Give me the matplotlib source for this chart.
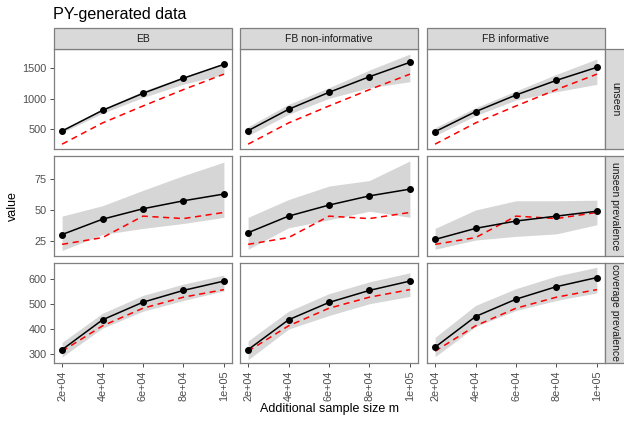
import numpy as np
import matplotlib.pyplot as plt
from matplotlib.patches import Rectangle

plt.rcParams['font.family'] = ['Liberation Sans', 'DejaVu Sans']

# data
m = [20000, 40000, 60000, 80000, 100000]
methods = ['EB', 'FB non-informative', 'FB informative']
quantities = ['unseen', 'unseen prevalence', 'coverage prevalence']

truth = {
    'unseen': [250, 600, 880, 1150, 1405],
    'unseen prevalence': [22, 27.5, 45, 43, 48],
    'coverage prevalence': [312, 413, 483, 527, 557],
}

est = {
    ('unseen', 'EB'): [467, 808, 1089, 1338, 1567],
    ('unseen', 'FB non-informative'): [472, 825, 1105, 1363, 1600],
    ('unseen', 'FB informative'): [456, 786, 1061, 1303, 1518],
    ('unseen prevalence', 'EB'): [30, 42.5, 51, 57.5, 63],
    ('unseen prevalence', 'FB non-informative'): [31.5, 45, 54, 61.5, 67],
    ('unseen prevalence', 'FB informative'): [26, 35, 41, 45, 49],
    ('coverage prevalence', 'EB'): [318, 437, 507, 554, 591],
    ('coverage prevalence', 'FB non-informative'): [318, 437, 506, 554, 591],
    ('coverage prevalence', 'FB informative'): [328, 450, 519, 569, 605],
}

lower = {
    ('unseen', 'EB'): [440, 760, 1020, 1240, 1400],
    ('unseen', 'FB non-informative'): [390, 742, 1006, 1182, 1280],
    ('unseen', 'FB informative'): [390, 720, 978, 1115, 1237],
    ('unseen prevalence', 'EB'): [17, 30, 35, 39, 44],
    ('unseen prevalence', 'FB non-informative'): [18, 35.5, 42, 49, 44],
    ('unseen prevalence', 'FB informative'): [18, 25.5, 28.5, 30.5, 38],
    ('coverage prevalence', 'EB'): [289, 404, 471, 514, 552],
    ('coverage prevalence', 'FB non-informative'): [278, 400, 454, 501, 530],
    ('coverage prevalence', 'FB informative'): [290, 410, 474, 514, 544],
}

upper = {
    ('unseen', 'EB'): [495, 835, 1125, 1365, 1585],
    ('unseen', 'FB non-informative'): [538, 907, 1182, 1473, 1737],
    ('unseen', 'FB informative'): [521, 851, 1127, 1402, 1655],
    ('unseen prevalence', 'EB'): [45, 53.5, 66, 78, 89],
    ('unseen prevalence', 'FB non-informative'): [44, 58.5, 69.5, 74, 90],
    ('unseen prevalence', 'FB informative'): [35, 50, 57.5, 57.5, 58],
    ('coverage prevalence', 'EB'): [347, 463, 534, 579, 615],
    ('coverage prevalence', 'FB non-informative'): [353, 471, 541, 588, 624],
    ('coverage prevalence', 'FB informative'): [367, 494, 561, 611, 646],
}

ylims = {
    'unseen': (170, 1820),
    'unseen prevalence': (12.5, 94),
    'coverage prevalence': (265, 663),
}
yticks = {
    'unseen': [500, 1000, 1500],
    'unseen prevalence': [25, 50, 75],
    'coverage prevalence': [300, 400, 500, 600],
}
xticks = [20000, 40000, 60000, 80000, 100000]
xticklabels = ['2e+04', '4e+04', '6e+04', '8e+04', '1e+05']

W, H = 624, 422
fig = plt.figure(figsize=(W / 100, H / 100), dpi=100)

col_left = [54, 240, 427]
pw = 178
row_top = [49, 156, 263]
ph = 100
strip_h = 21
border = '#7F7F7F'
strip_fc = '#D9D9D9'

for r, q in enumerate(quantities):
    for c, meth in enumerate(methods):
        ax = fig.add_axes([col_left[c] / W, 1 - (row_top[r] + ph) / H, pw / W, ph / H])
        ax.fill_between(m, lower[(q, meth)], upper[(q, meth)], color='#D6D6D6', lw=0)
        ax.plot(m, truth[q], color='red', ls=(0, (4, 3)), lw=1.1)
        ax.plot(m, est[(q, meth)], color='black', lw=1.1, marker='o', ms=4)
        ax.set_xlim(16000, 104000)
        ax.set_ylim(*ylims[q])
        ax.set_xticks(xticks)
        ax.set_yticks(yticks[q])
        for s in ax.spines.values():
            s.set_color(border)
            s.set_linewidth(0.9)
        ax.tick_params(colors='#333333', labelcolor='#4D4D4D', labelsize=7.8,
                       length=3, width=0.6, pad=2.2)
        if c == 0:
            ax.set_yticklabels([str(v) for v in yticks[q]])
        else:
            ax.set_yticklabels([])
            ax.tick_params(axis='y', length=0)
        if r == 2:
            ax.set_xticklabels(xticklabels, rotation=90)
        else:
            ax.set_xticklabels([])
            ax.tick_params(axis='x', length=0)

        # top strips
        if r == 0:
            fig.patches.append(Rectangle((col_left[c] / W, 1 - row_top[r] / H), pw / W, strip_h / H,
                                         transform=fig.transFigure, fc=strip_fc, ec=border, lw=0.9))
            fig.text((col_left[c] + pw / 2) / W, 1 - (row_top[r] - strip_h / 2) / H, meth,
                     ha='center', va='center', fontsize=7.5, color='#1A1A1A')
        # right strips
        if c == 2:
            x0 = col_left[c] + pw
            rect = Rectangle((x0 / W, 1 - (row_top[r] + ph) / H), 21 / W, ph / H,
                             transform=fig.transFigure, fc=strip_fc, ec=border, lw=0.9)
            fig.patches.append(rect)
            t = fig.text((x0 + 10.5) / W, 1 - (row_top[r] + ph / 2) / H, q,
                         ha='center', va='center', rotation=-90, fontsize=7.5, color='#1A1A1A')
            t.set_clip_path(rect)

fig.text(53 / W, 1 - 14 / H, 'PY-generated data', fontsize=11.6, ha='left', va='center')
fig.text(13 / W, 1 - 206 / H, 'value', rotation=90, fontsize=9, ha='center', va='center')
fig.text(330 / W, 1 - 409 / H, 'Additional sample size m', fontsize=9, ha='center', va='center')

fig.savefig('out.png', dpi=100)
